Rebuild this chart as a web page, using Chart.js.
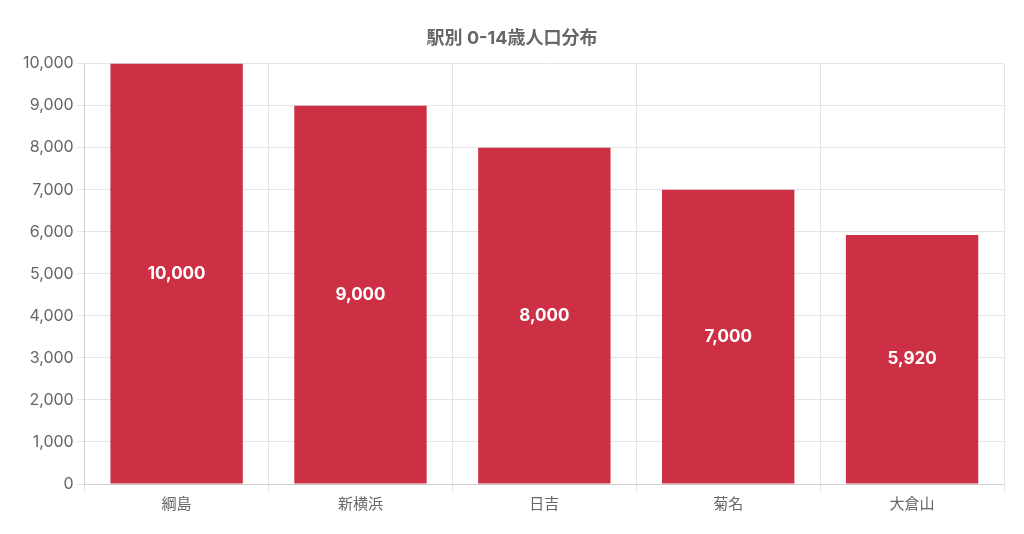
<!DOCTYPE html>
<html>
<head>
<meta charset="utf-8">
<script src="https://cdn.jsdelivr.net/npm/chart.js@4"></script>
<style>
  body { margin: 0; background: #fff; }
  #wrap { width: 1024px; height: 534px; }
</style>
</head>
<body>
<div id="wrap"><canvas id="chart"></canvas></div>
<script>
// 駅別 0-14歳人口
const stations = ["綱島", "新横浜", "日吉", "菊名", "大倉山"];
const population = [10000, 9000, 8000, 7000, 5920];

const FONT = "Inter, 'Noto Sans CJK JP', sans-serif";

// バー中央に値を描く
const centerLabels = {
  id: "centerLabels",
  afterDatasetsDraw(chart) {
    const ctx = chart.ctx;
    const meta = chart.getDatasetMeta(0);
    ctx.save();
    ctx.fillStyle = "#fff";
    ctx.font = "bold 17px " + FONT;
    ctx.textAlign = "center";
    ctx.textBaseline = "middle";
    meta.data.forEach((bar, i) => {
      const y = (bar.y + bar.base) / 2;
      ctx.fillText(population[i].toLocaleString("en-US"), bar.x, y);
    });
    ctx.restore();
  }
};

new Chart(document.getElementById("chart"), {
  type: "bar",
  data: {
    labels: stations,
    datasets: [{
      label: "0-14歳人口",
      data: population,
      backgroundColor: "#CD2F45",
    }],
  },
  options: {
    responsive: true,
    maintainAspectRatio: false,
    animation: false,
    layout: { padding: { left: 20, right: 20, top: 28, bottom: 18 } },
    plugins: {
      legend: { display: false },
      title: {
        display: true,
        text: "駅別 0-14歳人口分布",
        color: "#666",
        font: { family: FONT, size: 18, weight: "bold" },
        padding: { top: 0, bottom: 14 },
      },
      tooltip: { enabled: false },
    },
    scales: {
      y: {
        min: 0,
        max: 10000,
        ticks: {
          stepSize: 1000,
          color: "#666",
          font: { family: FONT, size: 16 },
          callback: v => v.toLocaleString("en-US"),
        },
        grid: { color: "#e5e5e5" },
      },
      x: {
        ticks: { color: "#666", font: { family: FONT, size: 15 } },
        grid: { color: "#e5e5e5" },
      },
    },
  },
  plugins: [centerLabels],
});
</script>
</body>
</html>
